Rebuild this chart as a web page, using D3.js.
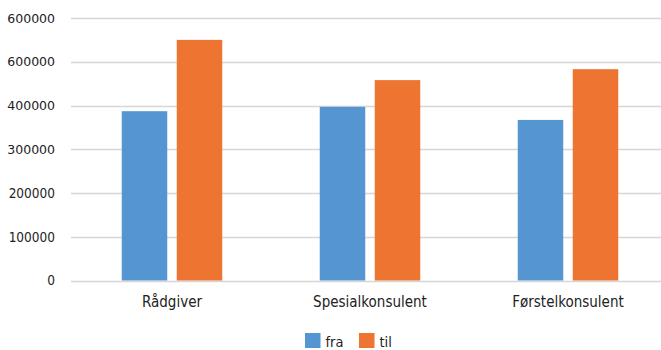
<!DOCTYPE html>
<html>
<head>
<meta charset="utf-8">
<script src="https://cdn.jsdelivr.net/npm/d3@7"></script>
<style>
  html, body { margin: 0; padding: 0; background: #fff; }
  svg { display: block; }
  .cond { font-family: "DejaVu Sans Condensed", "DejaVu Sans", sans-serif; font-stretch: condensed; }
  .wide { font-family: "DejaVu Sans", sans-serif; }
</style>
</head>
<body>
<svg id="chart" width="661" height="350"></svg>
<script>
const categories = ["Rådgiver", "Spesialkonsulent", "Førstelkonsulent"];
const seriesNames = ["fra", "til"];
const fraValues = [387000, 397000, 367000];
const tilValues = [550000, 458000, 483000];
const tickValues = [0, 100000, 200000, 300000, 400000, 500000, 600000];
const tickLabels = ["0", "100000", "200000", "300000", "400000", "600000", "600000"];
const colors = ["#5596D2", "#ED7431"];

const svg = d3.select("#chart");
const W = 661;

const y = d3.scaleLinear().domain([0, 600000]).range([280.5, 18]);
const x0 = d3.scaleBand().domain(categories).range([73, 667])
  .paddingInner(0.4924).paddingOuter(0.2462);
const x1 = d3.scaleBand().domain(seriesNames).range([0, x0.bandwidth()])
  .paddingInner(0.173).paddingOuter(0);

// gridlines
svg.append("g").selectAll("line").data(tickValues).join("line")
  .attr("x1", 71).attr("x2", W)
  .attr("y1", d => Math.round(y(d)) + 0.5).attr("y2", d => Math.round(y(d)) + 0.5)
  .attr("stroke", "#d6d6d6").attr("stroke-width", 1.4);

// y axis labels
const yAxis = d3.axisLeft(y).tickValues(tickValues)
  .tickFormat((d, i) => tickLabels[i]).tickSize(0).tickPadding(0);
const gy = svg.append("g").attr("transform", "translate(55,0)").call(yAxis);
gy.select(".domain").remove();
gy.selectAll(".tick text")
  .attr("class", (d, i) => i < 3 ? "cond" : "wide")
  .attr("font-size", (d, i) => i < 3 ? "13.5px" : "12.5px")
  .attr("fill", "#222");

// bars
const data = categories.map((c, i) => ({ cat: c, vals: [fraValues[i], tilValues[i]] }));
const groups = svg.append("g").selectAll("g").data(data).join("g")
  .attr("transform", d => `translate(${x0(d.cat)},0)`);
groups.selectAll("rect").data(d => d.vals.map((v, j) => ({ s: seriesNames[j], v, j })))
  .join("rect")
  .attr("x", d => x1(d.s))
  .attr("width", x1.bandwidth())
  .attr("y", d => y(d.v))
  .attr("height", d => y(0) - y(d.v))
  .attr("fill", d => colors[d.j]);

// x axis labels
const xAxis = d3.axisBottom(x0).tickSize(0).tickPadding(0);
const gx = svg.append("g").attr("transform", "translate(0,295)").call(xAxis);
gx.select(".domain").remove();
gx.selectAll(".tick text")
  .attr("class", "cond").attr("font-size", "15px").attr("fill", "#222")
  .attr("dy", "0.8em");

// legend
const legendX = [305, 359];
const lg = svg.append("g").selectAll("g").data(seriesNames).join("g")
  .attr("transform", (d, i) => `translate(${legendX[i]},333)`);
lg.append("rect").attr("width", 15.5).attr("height", 15).attr("fill", (d, i) => colors[i]);
lg.append("text").attr("class", "cond").attr("x", 20.5).attr("y", 13.5)
  .attr("font-size", "14.5px").attr("fill", "#222").text(d => d);
</script>
</body>
</html>
